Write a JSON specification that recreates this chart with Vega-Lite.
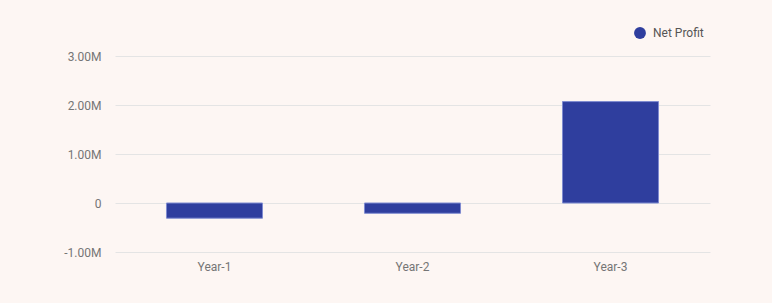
{
  "$schema": "https://vega.github.io/schema/vega-lite/v6.json",
  "autosize": "none",
  "width": 595,
  "height": 196,
  "padding": {"left": 115, "top": 56, "right": 62, "bottom": 51},
  "background": "#fdf6f3",
  "config": {
    "view": {"stroke": null},
    "font": "Roboto"
  },
  "data": {
    "values": [
      {"year": "Year-1", "value": -310000, "series": "Net Profit"},
      {"year": "Year-2", "value": -210000, "series": "Net Profit"},
      {"year": "Year-3", "value": 2070000, "series": "Net Profit"}
    ]
  },
  "mark": {"type": "bar", "stroke": "#7f8bd0", "strokeWidth": 1},
  "encoding": {
    "x": {
      "field": "year",
      "type": "nominal",
      "sort": null,
      "scale": {"paddingInner": 0.515, "paddingOuter": 0.26},
      "axis": {
        "title": null,
        "labelAngle": 0,
        "domain": false,
        "ticks": false,
        "labelPadding": 9,
        "labelColor": "#757575",
        "labelFontSize": 12,
        "labelFont": "Roboto"
      }
    },
    "y": {
      "field": "value",
      "type": "quantitative",
      "scale": {"domain": [-1000000, 3000000], "nice": false},
      "axis": {
        "title": null,
        "values": [-1000000, 0, 1000000, 2000000, 3000000],
        "labelExpr": "datum.value == 0 ? '0' : replace(format(datum.value / 1000000, '.2f'), '\u2212', '-') + 'M'",
        "domain": false,
        "ticks": false,
        "labelPadding": 14,
        "labelColor": "#757575",
        "labelFontSize": 12,
        "labelFont": "Roboto",
        "gridColor": "#e4e4e4",
        "gridWidth": 1
      }
    },
    "color": {
      "field": "series",
      "type": "nominal",
      "scale": {"range": ["#2f3e9e"]},
      "legend": {
        "title": null,
        "orient": "none",
        "legendX": 519,
        "legendY": -29,
        "symbolType": "circle",
        "symbolSize": 140,
        "symbolStrokeWidth": 0,
        "labelColor": "#555555",
        "labelFontSize": 12,
        "labelFont": "Roboto",
        "labelOffset": 7
      }
    }
  }
}
